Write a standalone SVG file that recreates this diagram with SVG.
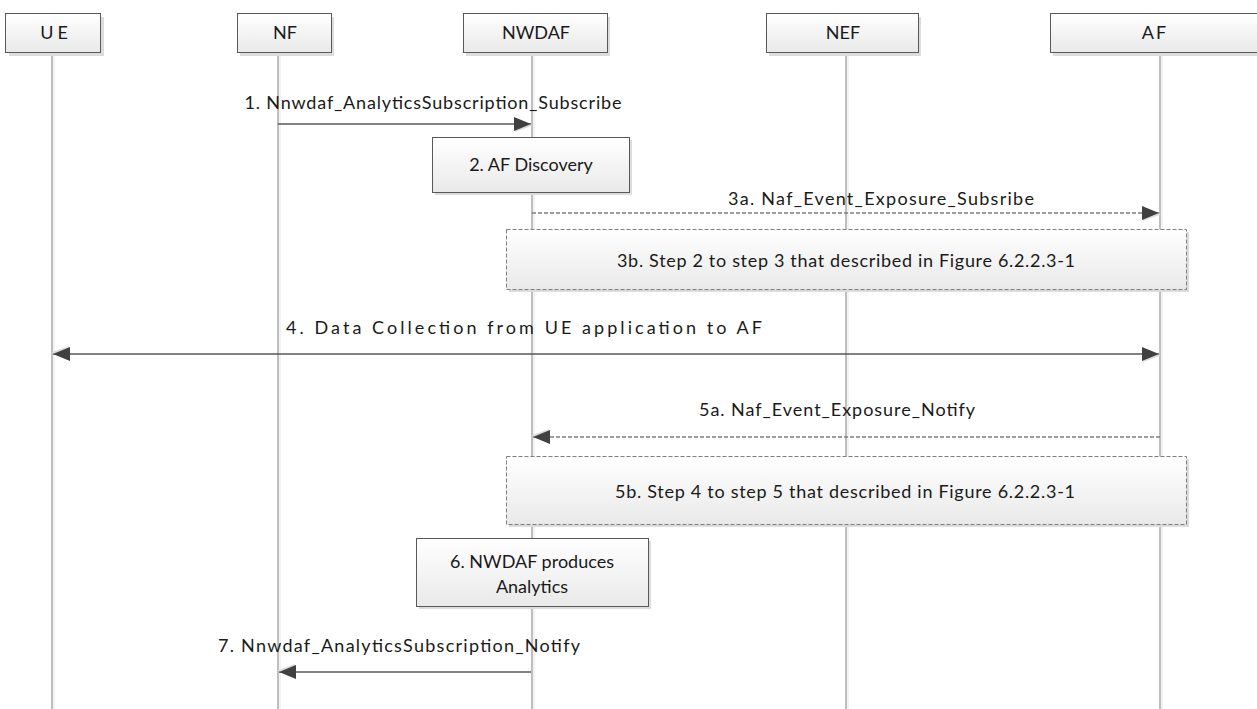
<svg xmlns="http://www.w3.org/2000/svg" width="1257" height="709" viewBox="0 0 1257 709">
<style>
  .hdr { fill: url(#grad); stroke: #595959; stroke-width: 1; }
  .shadow { fill: #dcdcdc; stroke: none; }
  .box { fill: url(#grad); stroke: #595959; stroke-width: 1; }
  .dbox { fill: url(#grad); stroke: #7f7f7f; stroke-width: 1; stroke-dasharray: 4 2; }
  .life { stroke: #7f7f7f; stroke-width: 1; fill: none; }
  .lifeshadow { stroke: #e6e6e6; stroke-width: 1; fill: none; }
  .msg { stroke: #595959; stroke-width: 1.3; fill: none; }
  .dmsg { stroke: #7f7f7f; stroke-width: 1.3; fill: none; stroke-dasharray: 4 2; }
  text { font-family: "Lato", "Liberation Sans", sans-serif; font-size: 18px; fill: #1a1a1a; }
  .c { text-anchor: middle; }
</style>
<defs>
  <linearGradient id="grad" x1="0" y1="0" x2="0" y2="1">
    <stop offset="0" stop-color="#ffffff"/>
    <stop offset="1" stop-color="#e9e9e9"/>
  </linearGradient>
  <marker id="ah" markerUnits="userSpaceOnUse" markerWidth="20" markerHeight="16" viewBox="0 0 20 16" refX="17" refY="7" orient="auto-start-reverse">
    <path d="M1,1.5 L19,8.5 L1,15 z" fill="#dcdcdc"/>
    <path d="M0,0 L17,7 L0,14 z" fill="#404040"/>
  </marker>
</defs>
<rect x="0" y="0" width="1257" height="709" fill="#ffffff"/>

<!-- Lifelines and headers -->
<g id="UE">
  <line class="lifeshadow" x1="54" y1="55" x2="54" y2="709"/>
  <line class="life" x1="52" y1="52" x2="52" y2="709"/>
  <rect class="shadow" x="9" y="17" width="95" height="39"/>
  <rect class="hdr" x="5.5" y="13.5" width="95" height="39"/>
  <text class="c" x="56" y="39" letter-spacing="4">UE</text>
</g>
<g id="NF">
  <line class="lifeshadow" x1="280" y1="55" x2="280" y2="709"/>
  <line class="life" x1="278" y1="52" x2="278" y2="709"/>
  <rect class="shadow" x="240" y="17" width="94" height="39"/>
  <rect class="hdr" x="237.5" y="13.5" width="94" height="39"/>
  <text class="c" x="285" y="39">NF</text>
</g>
<g id="NWDAF">
  <line class="lifeshadow" x1="534" y1="55" x2="534" y2="709"/>
  <line class="life" x1="532" y1="52" x2="532" y2="709"/>
  <rect class="shadow" x="466" y="17" width="144" height="39"/>
  <rect class="hdr" x="463.5" y="13.5" width="144" height="39"/>
  <text class="c" x="536" y="39">NWDAF</text>
</g>
<g id="NEF">
  <line class="lifeshadow" x1="848" y1="55" x2="848" y2="709"/>
  <line class="life" x1="846" y1="52" x2="846" y2="709"/>
  <rect class="shadow" x="769" y="17" width="152" height="39"/>
  <rect class="hdr" x="766.5" y="13.5" width="152" height="39"/>
  <text class="c" x="843" y="39">NEF</text>
</g>
<g id="AF">
  <line class="lifeshadow" x1="1162" y1="55" x2="1162" y2="709"/>
  <line class="life" x1="1160" y1="52" x2="1160" y2="709"/>
  <rect class="shadow" x="1053" y="17" width="220" height="39"/>
  <rect class="hdr" x="1050.5" y="13.5" width="220" height="39"/>
  <text class="c" x="1155" y="39" letter-spacing="2">AF</text>
</g>

<!-- Step boxes -->
<g id="step2">
  <rect class="shadow" x="435" y="140" width="197" height="55"/>
  <rect class="box" x="432.5" y="137.5" width="197" height="55"/>
  <text class="c" x="531" y="171">2. AF Discovery</text>
</g>
<g id="step3b">
  <rect class="shadow" x="509" y="232" width="680" height="60"/>
  <rect class="dbox" x="506.5" y="229.5" width="680" height="60"/>
  <text class="c" x="846" y="267" textLength="458" lengthAdjust="spacing">3b. Step 2 to step 3 that described in Figure 6.2.2.3-1</text>
</g>
<g id="step5b">
  <rect class="shadow" x="509" y="459" width="680" height="68"/>
  <rect class="dbox" x="506.5" y="456.5" width="680" height="68"/>
  <text class="c" x="845" y="498" textLength="460" lengthAdjust="spacing">5b. Step 4 to step 5 that described in Figure 6.2.2.3-1</text>
</g>
<g id="step6">
  <rect class="shadow" x="419" y="541" width="232" height="68"/>
  <rect class="box" x="416.5" y="538.5" width="232" height="68"/>
  <text class="c" x="532" y="568">6. NWDAF produces</text>
  <text class="c" x="532" y="593">Analytics</text>
</g>

<!-- Connectors -->
<g id="connectors">
  <line class="msg" x1="278" y1="124" x2="531" y2="124" marker-end="url(#ah)"/>
  <text class="c" x="433" y="109" textLength="377" lengthAdjust="spacing">1. Nnwdaf_AnalyticsSubscription_Subscribe</text>

  <line class="dmsg" x1="532" y1="213" x2="1159" y2="213" marker-end="url(#ah)"/>
  <text class="c" x="881" y="205" textLength="306" lengthAdjust="spacing">3a. Naf_Event_Exposure_Subsribe</text>

  <line class="msg" x1="53" y1="354" x2="1159" y2="354" marker-start="url(#ah)" marker-end="url(#ah)"/>
  <text class="c" x="524" y="334" textLength="476" lengthAdjust="spacing">4. Data Collection from UE application to AF</text>

  <line class="dmsg" x1="1160" y1="437" x2="533" y2="437" marker-end="url(#ah)"/>
  <text class="c" x="837" y="416" textLength="276" lengthAdjust="spacing">5a. Naf_Event_Exposure_Notify</text>

  <line class="msg" x1="531" y1="672" x2="279" y2="672" marker-end="url(#ah)"/>
  <text class="c" x="399" y="652" textLength="362" lengthAdjust="spacing">7. Nnwdaf_AnalyticsSubscription_Notify</text>
</g>
</svg>
